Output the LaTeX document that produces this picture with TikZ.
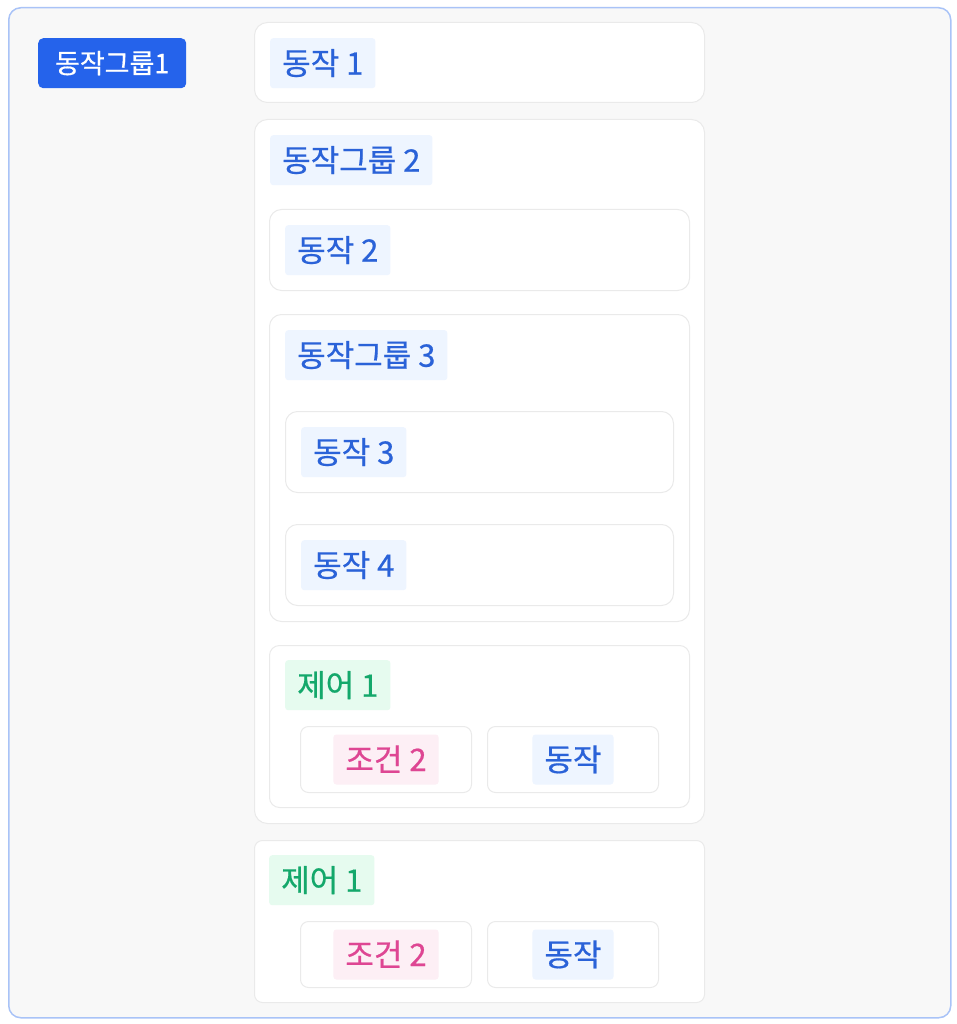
\documentclass[tikz,border=0pt]{standalone}
\usepackage{fontspec}
\setmainfont{Noto Sans CJK KR}[FakeBold=0.6]
\usetikzlibrary{positioning}

\definecolor{framefill}{HTML}{F8F8F8}
\definecolor{frameline}{HTML}{A9C3F7}
\definecolor{cardline}{HTML}{EAEAEA}
\definecolor{badgeblue}{HTML}{2563EB}
\definecolor{actbg}{HTML}{EEF5FF}
\definecolor{acttext}{HTML}{2A62D8}
\definecolor{ctrlbg}{HTML}{E6FBEF}
\definecolor{ctrltext}{HTML}{14A86B}
\definecolor{condbg}{HTML}{FDEFF5}
\definecolor{condtext}{HTML}{DE4693}

\tikzset{
    card/.style={draw=cardline, line width=1pt, fill=white, rounded corners=13pt,
        anchor=north west, inner sep=0pt},
    tag/.style={rounded corners=3pt, anchor=north west, inner xsep=12pt,
        inner ysep=0pt, minimum height=50pt, text height=24pt, text depth=1pt,
        font=\fontsize{31}{36}\selectfont},
    acttag/.style={tag, fill=actbg, text=acttext},
    ctrltag/.style={tag, fill=ctrlbg, text=ctrltext},
    condtag/.style={tag, fill=condbg, text=condtext},
}

\begin{document}
\begin{tikzpicture}[x=1pt, y=-1pt]
    \useasboundingbox (0, 0) rectangle (957, 1024);
    \node[draw=frameline, line width=1.5pt, fill=framefill, rounded corners=12pt,
        anchor=north west, minimum width=942, minimum height=1010] (frame)
        at (8, 7) {};
    \node[fill=badgeblue, text=white, rounded corners=5pt, anchor=north west,
        minimum width=148, minimum height=50, text height=21pt, text depth=1pt,
        font=\fontsize{27}{32}\selectfont] (group1) at (38, 38) {동작그룹1};

    % 동작 1
    \node[card, minimum width=450, minimum height=80] (act1-card) at (254, 22) {};
    \node[acttag] (act1) at (270, 38) {동작 1};

    % 동작그룹 2
    \node[card, minimum width=450, minimum height=704] (group2-card)
        at (254, 119) {};
    \node[acttag] (group2) at (270, 135) {동작그룹 2};
    \node[card, rounded corners=12pt, minimum width=420, minimum height=81]
        (act2-card) at (269, 209) {};
    \node[acttag] (act2) at (285, 225) {동작 2};

    % 동작그룹 3
    \node[card, rounded corners=12pt, minimum width=420, minimum height=307]
        (group3-card) at (269, 314) {};
    \node[acttag] (group3) at (285, 330) {동작그룹 3};
    \node[card, rounded corners=12pt, minimum width=388, minimum height=81]
        (act3-card) at (285, 411) {};
    \node[acttag] (act3) at (301, 427) {동작 3};
    \node[card, rounded corners=12pt, minimum width=388, minimum height=81]
        (act4-card) at (285, 524) {};
    \node[acttag] (act4) at (301, 540) {동작 4};

    % 제어 1 (inside 동작그룹 2)
    \node[card, rounded corners=10pt, minimum width=420, minimum height=162]
        (ctrl1-card) at (269, 645) {};
    \node[ctrltag] (ctrl1) at (285, 660) {제어 1};
    \node[card, rounded corners=8pt, minimum width=171, minimum height=66]
        (cond2-card) at (300, 726) {};
    \node[condtag, anchor=center] (cond2) at (cond2-card.center) {조건 2};
    \node[card, rounded corners=8pt, minimum width=171, minimum height=66]
        (act5-card) at (487, 726) {};
    \node[acttag, anchor=center] (act5) at (act5-card.center) {동작};

    % 제어 1
    \node[card, rounded corners=8pt, minimum width=450, minimum height=162]
        (ctrl2-card) at (254, 840) {};
    \node[ctrltag] (ctrl2) at (269, 855) {제어 1};
    \node[card, rounded corners=8pt, minimum width=171, minimum height=66]
        (cond3-card) at (300, 921) {};
    \node[condtag, anchor=center] (cond3) at (cond3-card.center) {조건 2};
    \node[card, rounded corners=8pt, minimum width=171, minimum height=66]
        (act6-card) at (487, 921) {};
    \node[acttag, anchor=center] (act6) at (act6-card.center) {동작};
\end{tikzpicture}
\end{document}
